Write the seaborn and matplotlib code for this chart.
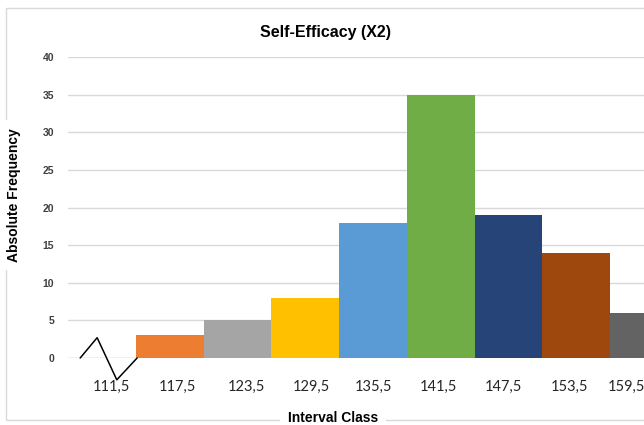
import matplotlib
matplotlib.use("Agg")
import matplotlib.pyplot as plt
import matplotlib.transforms as mtransforms
import seaborn as sns
import pandas as pd
from matplotlib.patches import Rectangle

# data
classes = ["111,5", "117,5", "123,5", "129,5", "135,5", "141,5", "147,5", "153,5", "159,5"]
freq = [0, 3, 5, 8, 18, 35, 19, 14, 6]
colors = ["#FFFFFF", "#ED7D31", "#A5A5A5", "#FFC000", "#5B9BD5",
          "#70AD47", "#264478", "#9E480E", "#636363"]

# axis-break zigzag drawn at the left of the axis
break_x = [-0.32, -0.07, 0.22, 0.52]
break_y = [0, 2.7, -2.9, 0]

# the category labels in the original sit a little off the bar centres (pixels)
label_shift = [10, 8, 9, 6, 1, -2, -5, -7, -18]

sns.set_theme(style="white")
plt.rcParams['font.family'] = ['Liberation Sans', 'DejaVu Sans']

df = pd.DataFrame({'Class': classes, 'Frequency': freq})

fig = plt.figure(figsize=(6.44, 4.25), dpi=100)
ax = fig.add_axes([68/644, 1 - 358/425, 576/644, 301/425])

sns.barplot(data=df, x='Class', y='Frequency', hue='Class', palette=colors,
            width=1.0, dodge=False, legend=False, ax=ax, linewidth=0,
            saturation=1)

ax.set_xlim(-0.5, 8.0)
ax.set_ylim(0, 40)
ax.set_yticks(range(0, 41, 5))
ax.yaxis.grid(True, color="#D9D9D9", linewidth=1)
ax.set_axisbelow(True)
for s in ax.spines.values():
    s.set_visible(False)
ax.axhline(0, color="#D9D9D9", linewidth=1, zorder=0)

ax.tick_params(axis='y', length=0, pad=10, labelsize=7.5, labelcolor="#404040")
for lab in ax.get_yticklabels():
    lab.set_fontweight('bold')
ax.tick_params(axis='x', length=0, pad=16, labelsize=10.5, labelcolor="#262626")
for lab, dx in zip(ax.get_xticklabels(), label_shift):
    lab.set_fontfamily(['Lato', 'DejaVu Sans'])
    lab.set_transform(lab.get_transform() +
                      mtransforms.ScaledTranslation(dx / 100, 0, fig.dpi_scale_trans))

ax.plot(break_x, break_y, color="black", linewidth=1.1, clip_on=False, zorder=5)

ax.set_xlabel("")
ax.set_ylabel("")

# outer chart frame
fig.patches.append(Rectangle((6/644, 1 - 420/425), 700/644, 412/425,
                             transform=fig.transFigure, fill=False,
                             edgecolor="#D9D9D9", linewidth=1, zorder=0))

fig.text(325/644, 1 - 33/425, "Self-Efficacy (X2)", ha='center', va='center',
         fontsize=11.5, fontweight='bold', color="#000000")
fig.text(14/644, 1 - 195/425, "Absolute Frequency", ha='center', va='center',
         rotation=90, fontsize=10, fontweight='bold', color="#000000",
         bbox=dict(facecolor='white', edgecolor='none', pad=6))
fig.text(333/644, 1 - 418/425, "Interval Class", ha='center', va='center',
         fontsize=10, fontweight='bold', color="#000000",
         bbox=dict(facecolor='white', edgecolor='none', pad=6))

fig.savefig("out.png", dpi=100)
